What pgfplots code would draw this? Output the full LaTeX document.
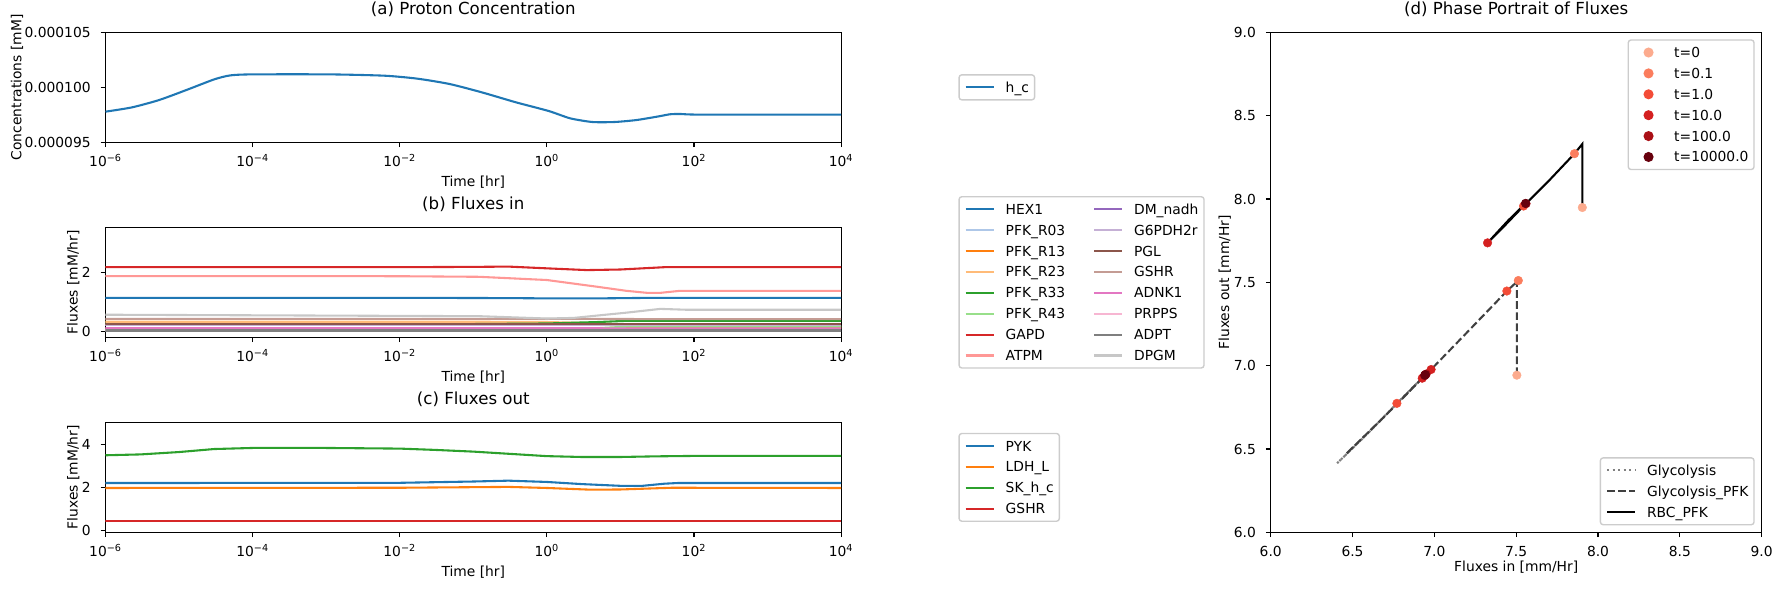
\documentclass[border=0pt]{standalone}
\usepackage{pgfplots}
\pgfplotsset{compat=1.18}
\usepackage{fontspec}
\setmainfont{DejaVu Sans}

% tab10 / tab20 colours
\definecolor{c0}{HTML}{1F77B4}
\definecolor{c0l}{HTML}{AEC7E8}
\definecolor{c1}{HTML}{FF7F0E}
\definecolor{c1l}{HTML}{FFBB78}
\definecolor{c2}{HTML}{2CA02C}
\definecolor{c2l}{HTML}{98DF8A}
\definecolor{c3}{HTML}{D62728}
\definecolor{c3l}{HTML}{FF9896}
\definecolor{c4}{HTML}{9467BD}
\definecolor{c4l}{HTML}{C5B0D5}
\definecolor{c5}{HTML}{8C564B}
\definecolor{c5l}{HTML}{C49C94}
\definecolor{c6}{HTML}{E377C2}
\definecolor{c6l}{HTML}{F7B6D2}
\definecolor{c7}{HTML}{7F7F7F}
\definecolor{c7l}{HTML}{C7C7C7}
% Reds samples for the time points
\definecolor{r0}{HTML}{FCAB8E}
\definecolor{r1}{HTML}{FB7D5D}
\definecolor{r2}{HTML}{F34C37}
\definecolor{r3}{HTML}{D42020}
\definecolor{r4}{HTML}{AA1016}
\definecolor{r5}{HTML}{67000D}
\definecolor{legframe}{HTML}{CCCCCC}

\pgfplotsset{
  mpl/.style={
    scale only axis,
    axis line style={line width=0.8bp},
    every tick/.style={line width=0.8bp, black},
    major tick length=3.5bp,
    tick align=outside,
    tick pos=left,
    tick label style={font=\fontsize{10}{12}\selectfont, inner sep=0pt},
    xticklabel style={anchor=base, yshift=-14.2bp},
    yticklabel style={anchor=east, xshift=-7bp},
    label style={font=\fontsize{10}{12}\selectfont, inner sep=0pt},
    title style={font=\fontsize{12}{14.4}\selectfont, inner sep=0pt, at={(0.5,1)}, anchor=base, yshift=7bp},
    legend cell align=left,
    legend style={font=\fontsize{10}{12}\selectfont, draw=legframe, line width=1bp,
      rounded corners=2bp, fill=white, inner xsep=4bp, inner ysep=1.5bp, row sep=0pt,
      nodes={inner xsep=0pt, inner ysep=2.52bp, text height=8.6bp, text depth=1.4bp},
      /tikz/every even column/.append style={column sep=20bp}},
    legend image code/.code={\draw[line width=1.5bp, ##1] (0bp,0bp) -- (20.2bp,0bp); \path (0bp,0bp) (28.1bp,0bp);},
  },
  timeaxis/.style={
    mpl, xmin=1e-6, xmax=1e4,
    width=529.6bp, height=79.2bp,
    xtick={1e-6,1e-4,1e-2,1,1e2,1e4},
    xticklabels={10\textsuperscript{−6},10\textsuperscript{−4},10\textsuperscript{−2},10\textsuperscript{0},10\textsuperscript{2},10\textsuperscript{4}},
    xlabel={Time [hr]},
    xlabel style={at={(rel axis cs:0.5,0)}, anchor=base, yshift=-32bp},
    legend style={at={(1.1595,0.5)}, anchor=west},
    every axis plot/.append style={line width=1.5bp},
  },
  mk/.style={only marks, mark=*, mark size=3.1bp, color=#1, mark options={draw=#1, fill=#1, line width=0.3bp}},
}

\begin{document}
\begin{tikzpicture}

% (a) proton concentration
\begin{axis}[xmode=log, timeaxis, at={(75.96bp,322.3bp)}, anchor=south west,
  title={(a) Proton Concentration},
  ymin=0.000095, ymax=0.000105, scaled y ticks=false,
  ytick={0.000095,0.0001,0.000105},
  yticklabels={0.000095,0.000100,0.000105},
  ylabel={Concentrations [mM]},
  ylabel style={at={(rel axis cs:0,0.5)}, anchor=base, yshift=60.5bp}]
\addplot[c0, smooth, tension=0.4] coordinates {
  (1e-6,0.00009779) (2.29e-6,0.00009818) (5.37e-6,0.00009885) (1.26e-5,0.00009976)
  (3.02e-5,0.00010073) (5e-5,0.00010109) (1e-4,0.00010118) (1.1e-3,0.00010118)
  (6.2e-3,0.00010106) (1.74e-2,0.00010079) (4.8e-2,0.00010030) (0.135,0.00009952)
  (0.38,0.00009864) (1.06,0.00009785) (2.09,0.00009718) (4.17,0.00009685)
  (8.3,0.00009685) (16.6,0.00009703) (33,0.00009736) (47,0.00009755)
  (65,0.00009758) (129,0.00009752) (1e4,0.00009752)};
\addlegendentry{h\_c}
\end{axis}

% (b) fluxes in
\begin{axis}[xmode=log, timeaxis, at={(75.96bp,181.9bp)}, anchor=south west,
  title={(b) Fluxes in},
  ymin=-0.216, ymax=3.555, ytick={0,2},
  /pgf/number format/assume math mode=true,
  ylabel={Fluxes [mM/hr]},
  ylabel style={at={(rel axis cs:0,0.5)}, anchor=base, yshift=20bp},
  legend columns=2]
\addplot[c0, forget plot] coordinates {(1e-6,1.14) (1e-2,1.14) (0.3,1.13) (1,1.12) (5,1.12) (30,1.14) (1e4,1.14)};
\addplot[c0l, forget plot] coordinates {(1e-6,0.015) (1,0.015) (30,0.01) (1e4,0.01)};
\addplot[c1, forget plot] coordinates {(1e-6,0.06) (1,0.06) (5,0.09) (12,0.12) (30,0.10) (1e4,0.10)};
\addplot[c1l, forget plot] coordinates {(1e-6,0.32) (0.1,0.32) (1,0.31) (5,0.27) (12,0.21) (30,0.18) (1e4,0.18)};
\addplot[c2, forget plot] coordinates {(1e-6,0.24) (0.1,0.24) (1,0.26) (5,0.31) (12,0.35) (1e4,0.35)};
\addplot[c2l, forget plot] coordinates {(1e-6,0.05) (1,0.06) (5,0.10) (12,0.15) (30,0.15) (1e4,0.15)};
\addplot[c3, forget plot] coordinates {(1e-6,2.19) (1e-2,2.19) (0.1,2.20) (0.3,2.21) (1,2.15) (3.5,2.09) (10,2.11) (40,2.19) (100,2.19) (1e4,2.19)};
\addplot[c3l, forget plot] coordinates {(1e-6,1.886) (1e-2,1.88) (0.12,1.86) (1,1.75) (4.8,1.52) (12,1.38) (23,1.31) (35,1.31) (65,1.38) (1e4,1.38)};
\addplot[c4, forget plot] coordinates {(1e-6,0.20) (1e4,0.20)};
\addplot[c4l, forget plot] coordinates {(1e-6,0.22) (1e4,0.22)};
\addplot[c5, forget plot] coordinates {(1e-6,0.23) (1e4,0.23)};
\addplot[c5l, forget plot] coordinates {(1e-6,0.42) (1,0.42) (30,0.41) (1e4,0.41)};
\addplot[c6, forget plot] coordinates {(1e-6,0.10) (1,0.10) (30,0.09) (1e4,0.09)};
\addplot[c6l, forget plot] coordinates {(1e-6,0.05) (1e4,0.05)};
\addplot[c7, forget plot] coordinates {(1e-6,0.02) (1e4,0.02)};
\addplot[c7l, forget plot] coordinates {(1e-6,0.56) (0.12,0.51) (1,0.43) (2.3,0.45) (12,0.63) (35,0.76) (80,0.73) (1e4,0.73)};
% legend, filled column by column
\addlegendimage{c0}\addlegendentry{HEX1}
\addlegendimage{c4}\addlegendentry{DM\_nadh}
\addlegendimage{c0l}\addlegendentry{PFK\_R03}
\addlegendimage{c4l}\addlegendentry{G6PDH2r}
\addlegendimage{c1}\addlegendentry{PFK\_R13}
\addlegendimage{c5}\addlegendentry{PGL}
\addlegendimage{c1l}\addlegendentry{PFK\_R23}
\addlegendimage{c5l}\addlegendentry{GSHR}
\addlegendimage{c2}\addlegendentry{PFK\_R33}
\addlegendimage{c6}\addlegendentry{ADNK1}
\addlegendimage{c2l}\addlegendentry{PFK\_R43}
\addlegendimage{c6l}\addlegendentry{PRPPS}
\addlegendimage{c3}\addlegendentry{GAPD}
\addlegendimage{c7}\addlegendentry{ADPT}
\addlegendimage{c3l}\addlegendentry{ATPM}
\addlegendimage{c7l}\addlegendentry{DPGM}
\end{axis}

% (c) fluxes out
\begin{axis}[xmode=log, timeaxis, at={(75.96bp,41.5bp)}, anchor=south west,
  title={(c) Fluxes out},
  ymin=-0.093, ymax=5.02, ytick={0,2,4},
  /pgf/number format/assume math mode=true,
  ylabel={Fluxes [mM/hr]},
  ylabel style={at={(rel axis cs:0,0.5)}, anchor=base, yshift=20bp}]
\addplot[c0] coordinates {(1e-6,2.20) (1e-2,2.21) (0.1,2.27) (0.3,2.31) (1,2.25) (3,2.15) (10,2.07) (20,2.07) (40,2.17) (60,2.20) (1e4,2.20)};
\addlegendentry{PYK}
\addplot[c1] coordinates {(1e-6,1.97) (1e-2,1.98) (0.3,2.02) (1,1.97) (4,1.89) (10,1.90) (50,1.98) (1e4,1.97)};
\addlegendentry{LDH\_L}
\addplot[c2] coordinates {(1e-6,3.49) (3e-6,3.53) (1e-5,3.64) (3e-5,3.78) (1e-4,3.83) (1e-3,3.83) (1e-2,3.80) (3e-2,3.74) (0.1,3.66) (0.3,3.56) (1,3.45) (3,3.41) (10,3.41) (30,3.44) (100,3.46) (1e4,3.46)};
\addlegendentry{SK\_h\_c}
\addplot[c3] coordinates {(1e-6,0.43) (1e4,0.43)};
\addlegendentry{GSHR}
\end{axis}

% (d) phase portrait
\begin{axis}[mpl, at={(914.9bp,41.5bp)}, anchor=south west,
  width=353.5bp, height=360bp,
  xmin=6, xmax=9, ymin=6, ymax=9,
  xtick={6,6.5,7,7.5,8,8.5,9}, ytick={6,6.5,7,7.5,8,8.5,9},
  /pgf/number format/assume math mode=true,
  /pgf/number format/fixed, /pgf/number format/fixed zerofill, /pgf/number format/precision=1,
  title={(d) Phase Portrait of Fluxes},
  xlabel={Fluxes in [mm/Hr]}, ylabel={Fluxes out [mm/Hr]},
  xlabel style={at={(rel axis cs:0.5,0)}, anchor=base, yshift=-28.4bp},
  ylabel style={at={(rel axis cs:0,0.5)}, anchor=base, yshift=30bp},
  legend style={at={(1,1)}, anchor=north east, xshift=-5bp, yshift=-5bp},
  legend image code/.code={\fill[#1] (10.1bp,0bp) circle (3.1bp); \path (0bp,0bp) (28.1bp,0bp);}]
% trajectories
\addplot[forget plot, gray, line width=1.5bp, dash pattern=on 1.5bp off 2.5bp] coordinates {
  (6.942,6.943) (6.771,6.774) (6.60,6.60) (6.405,6.414) (6.60,6.60) (6.926,6.925) (6.95,6.95) (6.942,6.943)};
\addplot[forget plot, black!75, line width=1.5bp, dash pattern=on 5.55bp off 2.4bp] coordinates {
  (7.504,6.943) (7.504,7.505) (7.513,7.511) (7.443,7.448) (7.20,7.20) (6.98,6.977) (6.70,6.70) (6.46,6.47) (6.70,6.70) (6.94,6.94) (6.942,6.943)};
\addplot[forget plot, black, line width=1.5bp] coordinates {
  (7.904,7.949) (7.904,8.330) (7.856,8.272) (7.70,8.11) (7.545,7.958) (7.40,7.81) (7.325,7.737) (7.45,7.87) (7.557,7.974)};
% states at selected times (Glycolysis, Glycolysis_PFK, RBC_PFK)
\addplot[mk=r0] coordinates {(6.942,6.943) (7.504,6.943) (7.904,7.949)};
\addlegendentry{t=0}
\addplot[mk=r1] coordinates {(6.942,6.943) (7.513,7.511) (7.856,8.272)};
\addlegendentry{t=0.1}
\addplot[mk=r2] coordinates {(6.771,6.774) (7.443,7.448) (7.545,7.958)};
\addlegendentry{t=1.0}
\addplot[mk=r3] coordinates {(6.926,6.925) (6.98,6.977) (7.325,7.737)};
\addlegendentry{t=10.0}
\addplot[mk=r4] coordinates {(6.95,6.95) (6.94,6.94) (7.56,7.972)};
\addlegendentry{t=100.0}
\addplot[mk=r5] coordinates {(6.942,6.943) (6.945,6.946) (7.557,7.974)};
\addlegendentry{t=10000.0}
\end{axis}

% line-style key for the phase portrait
\begin{axis}[mpl, at={(914.9bp,41.5bp)}, anchor=south west,
  width=353.5bp, height=360bp, hide axis,
  xmin=6, xmax=9, ymin=6, ymax=9,
  legend style={at={(1,0)}, anchor=south east, xshift=-5bp, yshift=5bp}]
\addlegendimage{gray, line width=1.5bp, dash pattern=on 1.5bp off 2.5bp}
\addlegendentry{Glycolysis}
\addlegendimage{black!75, line width=1.5bp, dash pattern=on 5.55bp off 2.4bp}
\addlegendentry{Glycolysis\_PFK}
\addlegendimage{black, line width=1.5bp}
\addlegendentry{RBC\_PFK}
\end{axis}

% page area: the whole figure canvas
\pgfresetboundingbox
\useasboundingbox (0,0) rectangle (1282.32bp,424.8bp);
\end{tikzpicture}
\end{document}
